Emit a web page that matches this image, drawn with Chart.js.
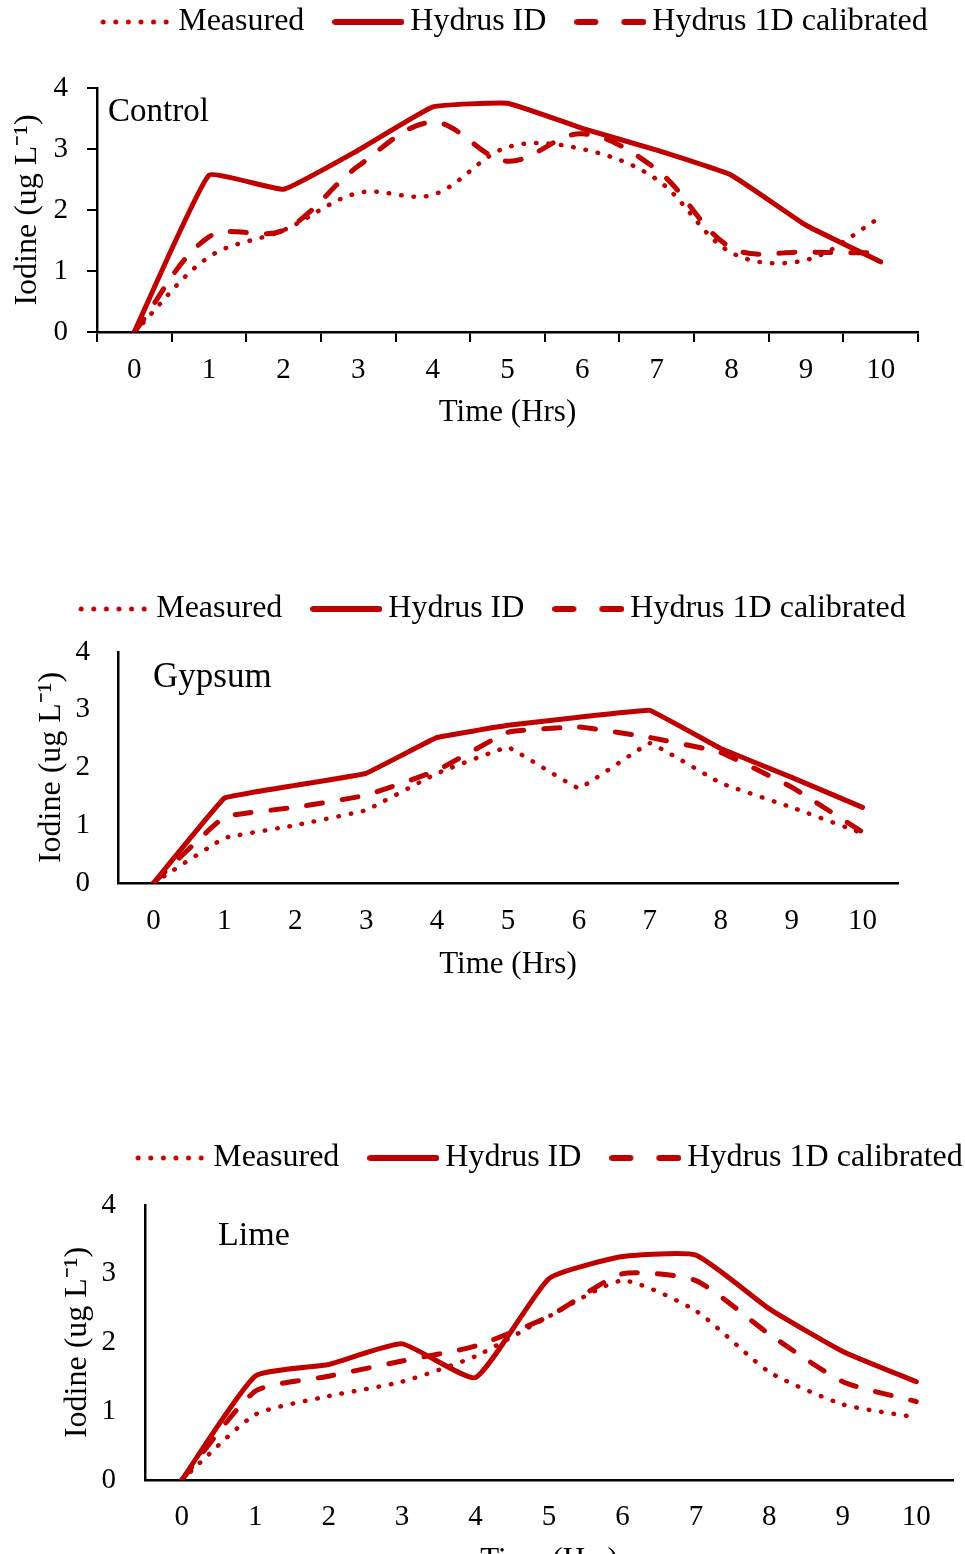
<!DOCTYPE html>
<html>
<head>
<meta charset="utf-8">
<script src="https://cdn.jsdelivr.net/npm/chart.js@4.4.1/dist/chart.umd.min.js"></script>
<style>
  html, body { margin: 0; padding: 0; background: #fff; width: 965px; height: 1554px; overflow: hidden; position: relative; }
  .panel { position: absolute; left: 0; }
</style>
</head>
<body>
<div class="panel" style="top:-32px"><canvas id="control" width="1038" height="492"></canvas></div>
<div class="panel" style="top:555px"><canvas id="gypsum" width="994" height="442"></canvas></div>
<div class="panel" style="top:1104px"><canvas id="lime" width="1108" height="482"></canvas></div>
<script>
// data
const hours = ['0', '1', '2', '3', '4', '5', '6', '7', '8', '9', '10'];
const yTickLabels = ['0', '1', '2', '3', '4'];
const seriesNames = ['Measured', 'Hydrus ID', 'Hydrus 1D calibrated'];

const controlMeasured   = [0, 1.23, 1.67, 2.28, 2.25, 3.03, 3.0, 2.5, 1.3, 1.18, 1.88];
const controlHydrus     = [0, 2.57, 2.34, 2.98, 3.69, 3.75, 3.34, 2.98, 2.57, 1.75, 1.15];
const controlCalibrated = [0, 1.56, 1.67, 2.72, 3.44, 2.8, 3.25, 2.66, 1.38, 1.31, 1.3];

const gypsumMeasured   = [0, 0.78, 1.0, 1.26, 1.9, 2.35, 1.64, 2.42, 1.73, 1.31, 0.86];
const gypsumHydrus     = [0, 1.47, 1.69, 1.9, 2.52, 2.73, 2.87, 2.99, 2.33, 1.83, 1.31];
const gypsumCalibrated = [0, 1.14, 1.31, 1.52, 1.95, 2.61, 2.7, 2.52, 2.26, 1.66, 0.88];

const limeMeasured   = [0, 0.95, 1.22, 1.43, 1.8, 2.38, 2.9, 2.46, 1.57, 1.1, 0.91];
const limeHydrus     = [0, 1.51, 1.68, 1.98, 1.49, 2.93, 3.25, 3.27, 2.49, 1.87, 1.43];
const limeCalibrated = [0, 1.29, 1.51, 1.73, 1.95, 2.38, 3.0, 2.9, 2.12, 1.43, 1.14];

const RED = '#c00000';
const SERIF = '"Liberation Serif", "Times New Roman", serif';
Chart.defaults.font.family = SERIF;
Chart.defaults.color = '#000';

// little line samples for the legend
function swatch(kind) {
  const c = document.createElement('canvas');
  c.width = 72; c.height = 10;
  const g = c.getContext('2d');
  g.strokeStyle = RED; g.fillStyle = RED;
  if (kind === 'dot') {
    for (let i = 0; i < 6; i++) {
      g.beginPath(); g.arc(3 + i * 12.6, 5, 2.5, 0, Math.PI * 2); g.fill();
    }
  } else if (kind === 'solid') {
    g.lineWidth = 6; g.lineCap = 'round';
    g.beginPath(); g.moveTo(3, 5); g.lineTo(69, 5); g.stroke();
  } else {
    g.lineWidth = 6; g.lineCap = 'round';
    g.beginPath(); g.moveTo(3, 5); g.lineTo(21, 5); g.moveTo(50, 5); g.lineTo(69, 5); g.stroke();
  }
  return c;
}
const swatches = [swatch('dot'), swatch('solid'), swatch('dash')];

const panelLabel = {
  id: 'panelLabel',
  afterDraw(chart, args, opts) {
    const { ctx, chartArea } = chart;
    ctx.save();
    ctx.font = opts.size + 'px ' + SERIF;
    ctx.fillStyle = '#000';
    ctx.textBaseline = 'alphabetic';
    ctx.fillText(opts.text, chartArea.left + opts.dx, chartArea.top + opts.dy);
    ctx.restore();
  }
};

function makePanel(id, values, p) {
  const styles = [
    { borderWidth: 4.5, borderDash: [0.5, 12], tension: p.tension[0] },
    { borderWidth: 5, borderDash: [], tension: p.tension[1] },
    { borderWidth: 5, borderDash: [16, 20], tension: p.tension[2] }
  ];
  new Chart(document.getElementById(id), {
    type: 'line',
    data: {
      labels: hours,
      datasets: values.map((v, i) => ({
        label: seriesNames[i],
        data: v,
        xAxisID: 'x',
        yAxisID: 'y',
        borderColor: RED,
        backgroundColor: RED,
        borderWidth: styles[i].borderWidth,
        borderDash: styles[i].borderDash,
        borderCapStyle: 'round',
        borderJoinStyle: 'round',
        tension: styles[i].tension,
        pointRadius: 0,
        fill: false
      }))
    },
    options: {
      responsive: false,
      animation: false,
      layout: { padding: 0 },
      plugins: {
        tooltip: { enabled: false },
        legend: {
          position: 'top',
          align: 'center',
          labels: {
            usePointStyle: true,
            pointStyleWidth: 52,
            padding: 38,
            color: '#000',
            font: { size: 32, family: SERIF },
            generateLabels: () => seriesNames.map((t, i) => ({
              text: t, pointStyle: swatches[i], fontColor: '#000',
              hidden: false, datasetIndex: i, lineWidth: 0
            }))
          }
        },
        panelLabel: p.label
      },
      scales: {
        x: {
          type: 'category',
          offset: true,
          grid: {
            offset: true,
            display: p.ticks,
            drawOnChartArea: false,
            drawTicks: p.ticks,
            tickLength: 10,
            color: '#000',
            lineWidth: 2
          },
          border: { display: true, color: '#000', width: 2.5 },
          ticks: { font: { size: 29, lineHeight: 1.2 }, color: '#000', padding: p.ticks ? 10.6 : p.xTickPad, maxRotation: 0 },
          title: {
            display: true, text: 'Time (Hrs)', color: '#000',
            font: { size: 31, lineHeight: 1.2 },
            padding: { top: 0, bottom: p.xTitlePad }
          },
          afterFit: s => { s.height = p.xHeight; }
        },
        y: {
          min: 0, max: 4,
          grid: {
            display: p.ticks,
            drawOnChartArea: false,
            drawTicks: p.ticks,
            tickLength: 10,
            color: '#000',
            lineWidth: 2
          },
          border: { display: true, color: '#000', width: 2.5 },
          ticks: {
            stepSize: 1,
            font: { size: 29, lineHeight: 1 },
            color: '#000',
            padding: p.yTickPad,
            callback: v => yTickLabels[v]
          },
          title: {
            display: true, text: 'Iodine (ug L\u207B\u00B9)', color: '#000',
            font: { size: 32, lineHeight: 1.2 },
            padding: { top: p.yTitlePad, bottom: 0 }
          },
          afterFit: s => { s.width = p.yWidth; }
        },
        // empty spacer scales so the legend can stay centred on the whole canvas
        gapTop: {
          type: 'linear',
          position: 'top',
          grid: { display: false, drawTicks: false },
          border: { display: false },
          ticks: { display: false },
          afterFit: s => { s.height = p.gap; }
        },
        gapRight: {
          type: 'linear',
          position: 'right',
          grid: { display: false, drawTicks: false },
          border: { display: false },
          ticks: { display: false },
          afterFit: s => { s.width = p.padRight; }
        }
      }
    },
    plugins: [panelLabel]
  });
}

makePanel('control', [controlMeasured, controlHydrus, controlCalibrated], {
  padRight: 120, gap: 40, xHeight: 128, yWidth: 97,
  xTickPad: 10.6, xTitlePad: 28.4, yTickPad: 19, yTitlePad: 8.8,
  ticks: true, tension: [0.35, 0.1, 0.35],
  label: { text: 'Control', size: 33, dx: 11, dy: 33 }
});

makePanel('gypsum', [gypsumMeasured, gypsumHydrus, gypsumCalibrated], {
  padRight: 96, gap: 17, xHeight: 114, yWidth: 118,
  xTickPad: 20.6, xTitlePad: 13.4, yTickPad: 28, yTitlePad: 32.8,
  ticks: false, tension: [0.05, 0.05, 0.1],
  label: { text: 'Gypsum', size: 35, dx: 35, dy: 35 }
});

makePanel('lime', [limeMeasured, limeHydrus, limeCalibrated], {
  padRight: 155, gap: 21, xHeight: 106, yWidth: 145,
  xTickPad: 19.6, xTitlePad: 6.4, yTickPad: 29, yTitlePad: 58.8,
  ticks: false, tension: [0.2, 0.15, 0.2],
  label: { text: 'Lime', size: 34, dx: 73, dy: 40 }
});
</script>
</body>
</html>
